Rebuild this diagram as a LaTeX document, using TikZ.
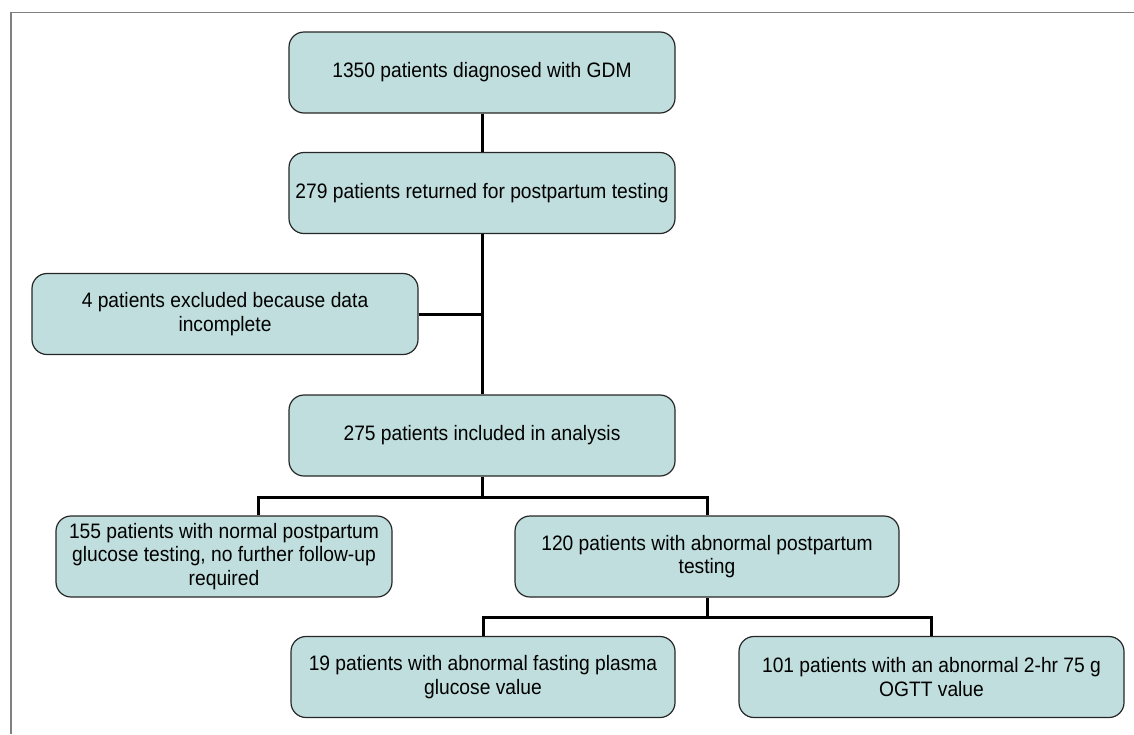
\documentclass[tikz,border=0pt]{standalone}
\usepackage{fontspec}
\setmainfont{Liberation Sans}[FakeStretch=0.92]
\usetikzlibrary{positioning}
\definecolor{boxfill}{RGB}{191,222,221}

\begin{document}
\begin{tikzpicture}[x=1pt,y=-1pt,
    flowbox/.style={draw=black!85,line width=1.2pt,fill=boxfill,rounded corners=15pt,
      minimum height=81pt,inner sep=2pt,align=center,
      font=\fontsize{20.9}{23.5}\selectfont},
    link/.style={line width=3pt}]
  \useasboundingbox (0,0) rectangle (1134,734);
  \draw[gray,line width=1.5pt] (11,734) -- (11,12.5) -- (1134,12.5);
  % boxes
  \node[flowbox,minimum width=386pt] (gdm) at (482,72.5) {1350 patients diagnosed with GDM};
  \node[flowbox,minimum width=386pt] (returned) at (482,193) {279 patients returned for postpartum testing};
  \node[flowbox,minimum width=386pt] (excl) at (225,314) {4 patients excluded because data\\incomplete};
  \node[flowbox,minimum width=386pt] (incl) at (482,435.5) {275 patients included in analysis};
  \node[flowbox,minimum width=336pt] (normal) at (224,556.5) {155 patients with normal postpartum\\glucose testing, no further follow-up\\required};
  \node[flowbox,minimum width=384pt] (abnorm) at (707,556.5) {120 patients with abnormal postpartum\\testing};
  \node[flowbox,minimum width=384pt] (fasting) at (483,677) {19 patients with abnormal fasting plasma\\glucose value};
  \node[flowbox,minimum width=385pt] (ogtt) at (931.5,677) {101 patients with an abnormal 2-hr 75 g\\OGTT value};
  % connectors
  \draw[link] (gdm) -- (returned);
  \draw[link] (returned) -- (incl);
  \draw[link] (excl.east) -- (excl.east -| returned.south);
  \coordinate (split1) at (482,497);
  \draw[link] (incl) -- (split1) -| ([xshift=34pt]normal.north);
  \draw[link] (split1) -| (abnorm.north);
  \coordinate (split2) at (707,617);
  \draw[link] (abnorm) -- (split2) -| (fasting.north);
  \draw[link] (split2) -| (ogtt.north);
\end{tikzpicture}
\end{document}
